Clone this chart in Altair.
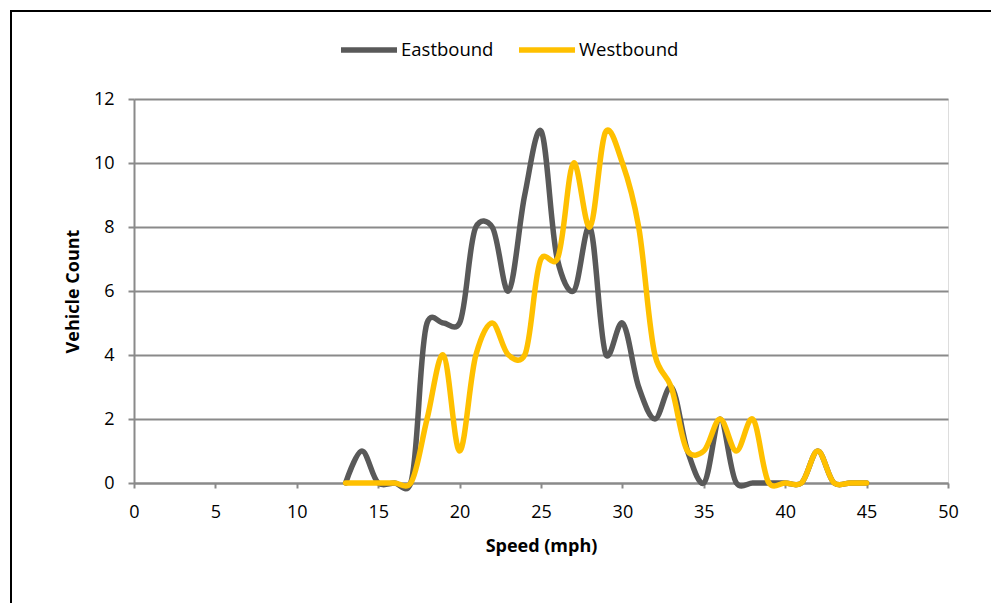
import altair as alt
import pandas as pd

speeds = list(range(13, 46))
eastbound = [0, 1, 0, 0, 0, 5, 5, 5, 8, 8, 6, 9, 11, 7, 6, 8, 4, 5, 3, 2, 3, 1, 0, 2, 0, 0, 0, 0, 0, 1, 0, 0, 0]
westbound = [0, 0, 0, 0, 0, 2, 4, 1, 4, 5, 4, 4, 7, 7, 10, 8, 11, 10, 8, 4, 3, 1, 1, 2, 1, 2, 0, 0, 0, 1, 0, 0, 0]
series_names = ["Eastbound", "Westbound"]
series_colors = ["#595959", "#FFC000"]
x_ticks = [0, 5, 10, 15, 20, 25, 30, 35, 40, 45, 50]
y_ticks = [0, 2, 4, 6, 8, 10, 12]

rows = []
for s, e, w in zip(speeds, eastbound, westbound):
    rows.append({"speed": s, "count": e, "dir": "Eastbound"})
    rows.append({"speed": s, "count": w, "dir": "Westbound"})
df = pd.DataFrame(rows)

FONT = "Open Sans"
GRID = "#8a8a8a"
W, H = 814, 384
LEFT, TOP = 134, 99

lines = alt.Chart(df).mark_line(
    interpolate="catmull-rom", tension=0.2, strokeWidth=5.5, strokeCap="round", strokeJoin="round"
).encode(
    x=alt.X("speed:Q", scale=alt.Scale(domain=[0, 50], nice=False, zero=False),
            axis=alt.Axis(values=x_ticks, title="Speed (mph)", grid=False, labelFlush=False,
                          tickSize=5, tickColor=GRID, tickWidth=2,
                          domainColor=GRID, domainWidth=2,
                          labelFont=FONT, labelFontSize=18, labelColor="#000000", labelPadding=15,
                          titleFont=FONT, titleFontSize=18, titleFontWeight="bold", titleColor="#000000",
                          titleX=W / 2, titleY=68, titleBaseline="alphabetic", titleAlign="center")),
    y=alt.Y("count:Q", scale=alt.Scale(domain=[0, 12], nice=False),
            axis=alt.Axis(values=y_ticks, title="Vehicle Count", grid=True, labelFlush=False,
                          gridColor=GRID, gridWidth=2,
                          tickSize=6, tickColor=GRID, tickWidth=2,
                          domainColor=GRID, domainWidth=2,
                          labelFont=FONT, labelFontSize=18, labelColor="#000000", labelPadding=14,
                          titleFont=FONT, titleFontSize=18, titleFontWeight="bold", titleColor="#000000",
                          titleX=-56, titleY=H / 2, titleBaseline="alphabetic", titleAlign="center",
                          titleAngle=270)),
    color=alt.Color("dir:N", scale=alt.Scale(domain=series_names, range=series_colors),
                    legend=alt.Legend(title=None, orient="none", direction="horizontal",
                                      legendX=204, legendY=-80,
                                      symbolType="stroke", symbolSize=3136, symbolStrokeWidth=5.5,
                                      labelFont=FONT, labelFontSize=18.5, labelColor="#000000",
                                      labelOffset=1, columnPadding=14, padding=0)),
    order=alt.Order("dir:N"),
)

frame = alt.Chart(pd.DataFrame({"a": [0]})).mark_rect(
    fill=None, stroke="#000000", strokeWidth=2
).encode(
    x=alt.value(11 - LEFT), x2=alt.value(1010 - LEFT),
    y=alt.value(11 - TOP), y2=alt.value(620 - TOP),
)

chart = alt.layer(frame, lines).properties(
    width=W, height=H,
    autosize=alt.AutoSizeParams(type="none"),
    padding={"left": LEFT, "top": TOP, "right": 991 - LEFT - W, "bottom": 603 - TOP - H},
).configure_view(stroke=None).configure(background="white")

chart.save("out.html", embed_options={"renderer": "svg", "actions": False})
